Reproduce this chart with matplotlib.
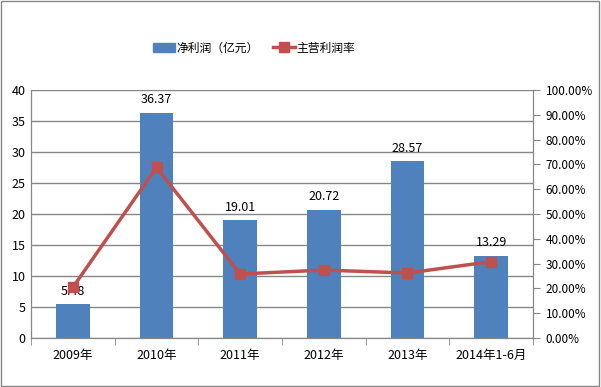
import matplotlib
matplotlib.use('Agg')
import matplotlib.pyplot as plt
from matplotlib.lines import Line2D
from matplotlib.patches import Patch, Rectangle
import numpy as np

plt.rcParams['font.family'] = ['Noto Sans CJK SC', 'DejaVu Sans']

categories = ['2009年', '2010年', '2011年', '2012年', '2013年', '2014年1-6月']
net_profit = [5.48, 36.37, 19.01, 20.72, 28.57, 13.29]
margin = [0.204, 0.688, 0.258, 0.274, 0.262, 0.308]

bar_color = '#4F81BD'
line_color = '#C0504D'
grid_color = '#868686'

fig = plt.figure(figsize=(6.01, 3.87), dpi=100)
ax = fig.add_axes([31 / 601, 49 / 387, 502 / 601, 248 / 387])
ax2 = ax.twinx()

x = np.arange(len(categories))
ax.bar(x, net_profit, width=0.4, color=bar_color, zorder=2)
for xi, v in zip(x, net_profit):
    ax.text(xi, v + 1.0, f'{v:.2f}', ha='center', va='bottom', fontsize=9)

ax2.plot(x, margin, color=line_color, lw=2.5, marker='s', ms=7, zorder=3)

ax.set_xlim(-0.5, len(categories) - 0.5)
ax.set_ylim(0, 40)
ax.set_yticks(range(0, 41, 5))
ax2.set_ylim(0, 1)
ax2.set_yticks(np.arange(0, 1.01, 0.1))
ax2.set_yticklabels([f'{t * 100:.2f}%' for t in np.arange(0, 1.01, 0.1)])

ax.yaxis.grid(True, color=grid_color, lw=1)
ax.set_axisbelow(True)
ax.set_xticks(x)
ax.set_xticklabels(categories)
ax.set_xticks(np.arange(-0.5, len(categories), 1), minor=True)
ax.tick_params(axis='x', which='major', length=0, pad=8, labelsize=9)
ax.tick_params(axis='x', which='minor', length=5, color=grid_color)
ax.tick_params(axis='y', length=0, labelsize=9, pad=4)
ax2.tick_params(axis='y', length=5, color=grid_color, labelsize=8.5, pad=4)

for a in (ax, ax2):
    for s in a.spines.values():
        s.set_color(grid_color)
    a.spines['top'].set_visible(False)

handles = [Patch(color=bar_color, label='净利润（亿元）'),
           Line2D([0], [0], color=line_color, lw=2.5, marker='s', ms=7, label='主营利润率')]
fig.legend(handles=handles, loc='center', bbox_to_anchor=(254 / 601, 1 - 48 / 387), ncol=2,
           frameon=False, fontsize=8.5, handlelength=1.9, columnspacing=1.2, handletextpad=0.1)

fig.patches.append(Rectangle((0.002, 0.003), 0.995, 0.994, transform=fig.transFigure,
                             fill=False, edgecolor=grid_color, lw=1))

fig.savefig('out.png', dpi=100)
